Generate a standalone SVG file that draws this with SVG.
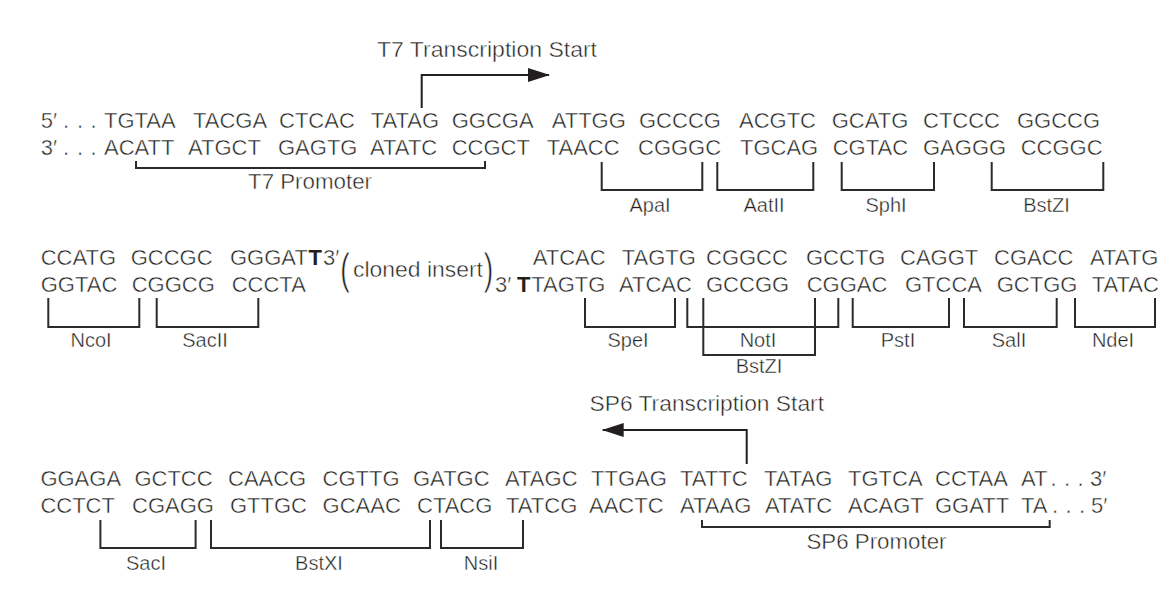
<svg xmlns="http://www.w3.org/2000/svg" width="1174" height="598" viewBox="0 0 1174 598">
<defs>
<style>
.seq{font-family:"Liberation Sans",Arial,sans-serif;font-size:22px;fill:#231f20;stroke:#ffffff;stroke-width:0.45px}
.lbl{font-family:"Liberation Sans",Arial,sans-serif;font-size:20px;fill:#231f20;text-anchor:middle;stroke:#ffffff;stroke-width:0.4px}
.ttl{font-family:"Liberation Sans",Arial,sans-serif;font-size:22px;fill:#231f20;stroke:#ffffff;stroke-width:0.45px}
.b{font-weight:bold;stroke:none}
.par{font-family:"Liberation Sans",Arial,sans-serif;font-size:30px;fill:#231f20;stroke:#ffffff;stroke-width:0.6px}
.br{fill:none;stroke:#2b2b2b;stroke-width:2}
.ar{fill:none;stroke:#231f20;stroke-width:2}
</style>
<marker id="ah" markerWidth="22" markerHeight="14" refX="21" refY="7" orient="auto" markerUnits="userSpaceOnUse">
<path d="M0,0 L22,7 L0,14 Z" fill="#231f20"/>
</marker>
</defs>
<rect width="1174" height="598" fill="#ffffff"/>

<!-- Row 1 -->
<g id="row1-top">
<text class="seq" y="128"><tspan x="40.7">5′</tspan><tspan x="63">.</tspan><tspan x="77">.</tspan><tspan x="90.5">.</tspan><tspan x="104">TGTAA</tspan><tspan x="193">TACGA</tspan><tspan x="279">CTCAC</tspan><tspan x="370.7">TATAG</tspan><tspan x="451.7">GGCGA</tspan><tspan x="551.7">ATTGG</tspan><tspan x="639">GCCCG</tspan><tspan x="739">ACGTC</tspan><tspan x="831.7">GCATG</tspan><tspan x="923">CTCCC</tspan><tspan x="1017">GGCCG</tspan></text>
</g>
<g id="row1-bottom">
<text class="seq" y="155"><tspan x="40.7">3′</tspan><tspan x="63">.</tspan><tspan x="77">.</tspan><tspan x="90.5">.</tspan><tspan x="104">ACATT</tspan><tspan x="188">ATGCT</tspan><tspan x="278">GAGTG</tspan><tspan x="370">ATATC</tspan><tspan x="451.7">CCGCT</tspan><tspan x="546.7">TAACC</tspan><tspan x="638">CGGGC</tspan><tspan x="740">TGCAG</tspan><tspan x="832.7">CGTAC</tspan><tspan x="923">GAGGG</tspan><tspan x="1020.7">CCGGC</tspan></text>
</g>
<g id="t7-start">
<text class="ttl" x="377" y="57" textLength="220" lengthAdjust="spacingAndGlyphs">T7 Transcription Start</text>
</g>
<g id="t7-promoter">
<path class="br" d="M136,161 V168 H485 V161"/>
<text class="ttl" x="248" y="189" textLength="124" lengthAdjust="spacingAndGlyphs">T7 Promoter</text>
</g>
<g id="ApaI"><path class="br" d="M601.7,162 V190 H702.3 V162"/><text class="lbl" x="650" y="212">ApaI</text></g>
<g id="AatII"><path class="br" d="M717.3,162 V190 H813.3 V162"/><text class="lbl" x="764" y="212">AatII</text></g>
<g id="SphI"><path class="br" d="M841.7,162 V190 H934 V162"/><text class="lbl" x="886" y="212">SphI</text></g>
<g id="BstZI-1"><path class="br" d="M991.7,162 V190 H1103.3 V162"/><text class="lbl" x="1046.5" y="212">BstZI</text></g>

<!-- Row 2 -->
<g id="row2-top">
<text class="seq" y="265"><tspan x="40.7">CCATG</tspan><tspan x="130.7">GCCGC</tspan><tspan x="230">GGGAT</tspan><tspan x="308.5" class="b">T</tspan><tspan x="323">3′</tspan><tspan x="532.7">ATCAC</tspan><tspan x="621.7">TAGTG</tspan><tspan x="706">CGGCC</tspan><tspan x="806">GCCTG</tspan><tspan x="900">CAGGT</tspan><tspan x="994">CGACC</tspan><tspan x="1090">ATATG</tspan></text>
</g>
<g id="row2-bottom">
<text class="seq" y="292"><tspan x="40.7">GGTAC</tspan><tspan x="131.7">CGGCG</tspan><tspan x="231.7">CCCTA</tspan><tspan x="495">3′</tspan><tspan x="517" class="b">T</tspan><tspan x="531.2">TAGTG</tspan><tspan x="619">ATCAC</tspan><tspan x="706">GCCGG</tspan><tspan x="806.7">CGGAC</tspan><tspan x="905">GTCCA</tspan><tspan x="996.7">GCTGG</tspan><tspan x="1091.7">TATAC</tspan></text>
</g>
<g id="insert">
<text class="par" transform="translate(340,284) scale(1,1.45)">(</text>
<text class="seq" x="353" y="277" textLength="130" lengthAdjust="spacingAndGlyphs">cloned insert</text>
<text class="par" transform="translate(483.5,284) scale(1,1.45)">)</text>
</g>
<g id="NcoI"><path class="br" d="M48.3,298 V327 H139.3 V298"/><text class="lbl" x="91" y="347">NcoI</text></g>
<g id="SacII"><path class="br" d="M156.7,298 V327 H258.3 V298"/><text class="lbl" x="205" y="347">SacII</text></g>
<g id="SpeI"><path class="br" d="M585,298 V327 H675 V298"/><text class="lbl" x="628" y="347">SpeI</text></g>
<g id="NotI"><path class="br" d="M687.3,298 V327 H838.3 V298"/><text class="lbl" x="758" y="347">NotI</text></g>
<g id="BstZI-2"><path class="br" d="M703.3,298 V355 H815 V298"/><text class="lbl" x="759" y="373">BstZI</text></g>
<g id="PstI"><path class="br" d="M852.7,298 V327 H949 V298"/><text class="lbl" x="898" y="347">PstI</text></g>
<g id="SalI"><path class="br" d="M964,298 V327 H1056.7 V298"/><text class="lbl" x="1009" y="347">SalI</text></g>
<g id="NdeI"><path class="br" d="M1075,298 V327 H1155 V298"/><text class="lbl" x="1113" y="347">NdeI</text></g>

<!-- Row 3 -->
<g id="row3-top">
<text class="seq" y="486"><tspan x="40.4">GGAGA</tspan><tspan x="134.4">GCTCC</tspan><tspan x="228">CAACG</tspan><tspan x="322.6">CGTTG</tspan><tspan x="413">GATGC</tspan><tspan x="505">ATAGC</tspan><tspan x="591">TTGAG</tspan><tspan x="680">TATTC</tspan><tspan x="764">TATAG</tspan><tspan x="848">TGTCA</tspan><tspan x="935">CCTAA</tspan><tspan x="1021">AT</tspan><tspan x="1050.5">.</tspan><tspan x="1064">.</tspan><tspan x="1077.5">.</tspan><tspan x="1090">3′</tspan></text>
</g>
<g id="row3-bottom">
<text class="seq" y="513"><tspan x="40.4">CCTCT</tspan><tspan x="132">CGAGG</tspan><tspan x="230">GTTGC</tspan><tspan x="322.6">GCAAC</tspan><tspan x="417">CTACG</tspan><tspan x="506">TATCG</tspan><tspan x="589">AACTC</tspan><tspan x="680">ATAAG</tspan><tspan x="765">ATATC</tspan><tspan x="848">ACAGT</tspan><tspan x="935">GGATT</tspan><tspan x="1021">TA</tspan><tspan x="1052">.</tspan><tspan x="1065.5">.</tspan><tspan x="1079">.</tspan><tspan x="1091">5′</tspan></text>
</g>
<g id="sp6-start">
<text class="ttl" x="589.5" y="411" textLength="234.5" lengthAdjust="spacingAndGlyphs">SP6 Transcription Start</text>
</g>
<g id="sp6-promoter">
<path class="br" d="M702,520 V527 H1049.7 V520"/>
<text class="ttl" x="806.5" y="549" textLength="140" lengthAdjust="spacingAndGlyphs">SP6 Promoter</text>
</g>
<g id="SacI"><path class="br" d="M100.4,520 V548 H195.6 V520"/><text class="lbl" x="146" y="570">SacI</text></g>
<g id="BstXI"><path class="br" d="M211,520 V548 H430 V520"/><text class="lbl" x="319" y="570">BstXI</text></g>
<g id="NsiI"><path class="br" d="M441,520 V548 H523 V520"/><text class="lbl" x="481" y="570">NsiI</text></g>

<!-- connectors -->
<g id="connectors">
<path class="ar" d="M421.7,108 V75 H549" marker-end="url(#ah)"/>
<path class="ar" d="M746.7,464 V430 H602.7" marker-end="url(#ah)"/>
</g>
</svg>
